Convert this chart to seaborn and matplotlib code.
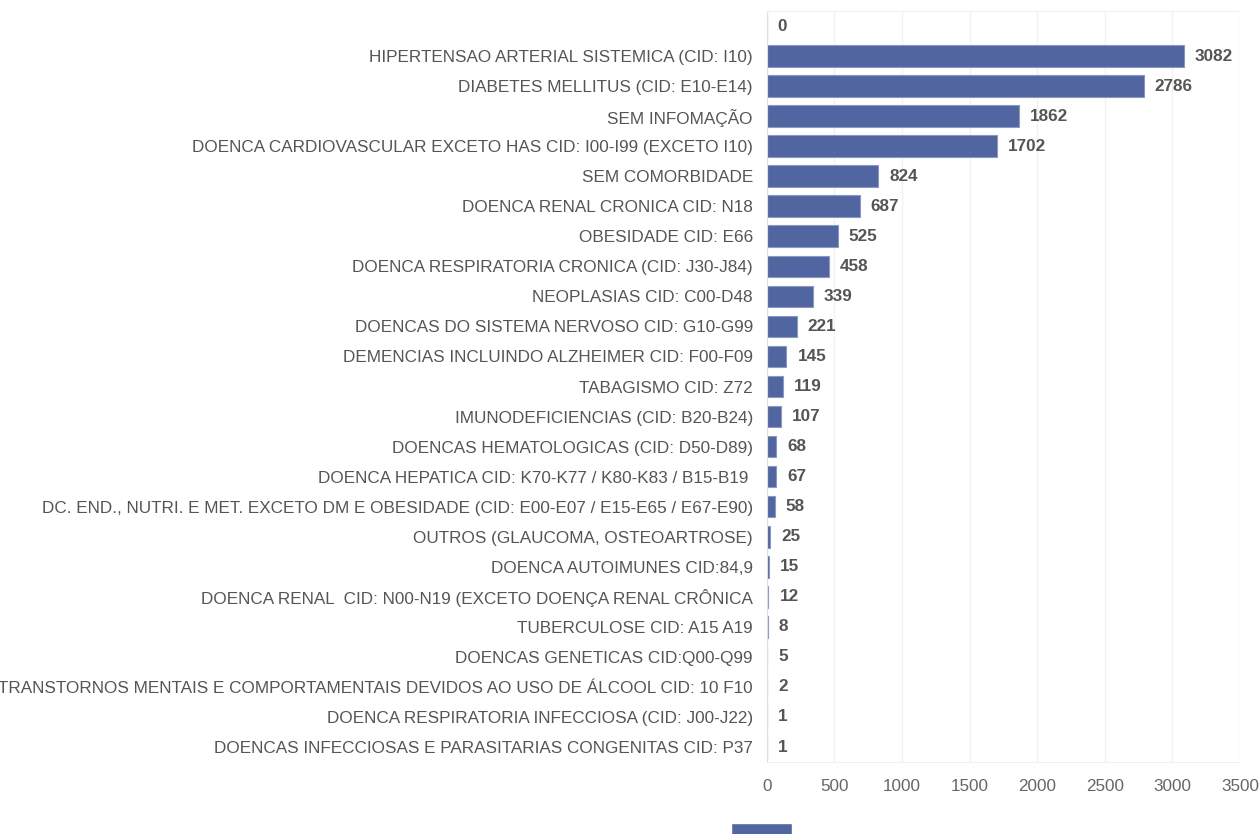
import pandas as pd
import matplotlib.pyplot as plt
import seaborn as sns
from matplotlib.patches import Patch

# comorbidades e quantidades (de cima para baixo)
categorias = [
    '',
    'HIPERTENSAO ARTERIAL SISTEMICA (CID: I10)',
    'DIABETES MELLITUS (CID: E10-E14)',
    'SEM INFOMAÇÃO',
    'DOENCA CARDIOVASCULAR EXCETO HAS CID: I00-I99 (EXCETO I10)',
    'SEM COMORBIDADE',
    'DOENCA RENAL CRONICA CID: N18',
    'OBESIDADE CID: E66',
    'DOENCA RESPIRATORIA CRONICA (CID: J30-J84)',
    'NEOPLASIAS CID: C00-D48',
    'DOENCAS DO SISTEMA NERVOSO CID: G10-G99',
    'DEMENCIAS INCLUINDO ALZHEIMER CID: F00-F09',
    'TABAGISMO CID: Z72',
    'IMUNODEFICIENCIAS (CID: B20-B24)',
    'DOENCAS HEMATOLOGICAS (CID: D50-D89)',
    'DOENCA HEPATICA CID: K70-K77 / K80-K83 / B15-B19 ',
    'DC. END., NUTRI. E MET. EXCETO DM E OBESIDADE (CID: E00-E07 / E15-E65 / E67-E90)',
    'OUTROS (GLAUCOMA, OSTEOARTROSE)',
    'DOENCA AUTOIMUNES CID:84,9',
    'DOENCA RENAL  CID: N00-N19 (EXCETO DOENÇA RENAL CRÔNICA',
    'TUBERCULOSE CID: A15 A19',
    'DOENCAS GENETICAS CID:Q00-Q99',
    'TRANSTORNOS MENTAIS E COMPORTAMENTAIS DEVIDOS AO USO DE ÁLCOOL CID: 10 F10',
    'DOENCA RESPIRATORIA INFECCIOSA (CID: J00-J22)',
    'DOENCAS INFECCIOSAS E PARASITARIAS CONGENITAS CID: P37',
]
quantidades = [0, 3082, 2786, 1862, 1702, 824, 687, 525, 458, 339, 221, 145,
               119, 107, 68, 67, 58, 25, 15, 12, 8, 5, 2, 1, 1]
x_ticks = [0, 500, 1000, 1500, 2000, 2500, 3000, 3500]

cor_barra = '#5165a0'

sns.set_style('white')
plt.rcParams['font.family'] = ['Liberation Sans', 'DejaVu Sans']

df = pd.DataFrame({'categoria': categorias, 'quantidade': quantidades})

fig = plt.figure(figsize=(12.59, 8.34), dpi=100)
ax = fig.add_axes([0.609, 0.0863, 0.376, 0.9005])

sns.barplot(data=df, x='quantidade', y='categoria', color=cor_barra,
            width=0.72, saturation=1, ax=ax, zorder=2,
            edgecolor='#8b98c4', linewidth=0.8)

ax.bar_label(ax.containers[0], labels=[str(v) for v in quantidades],
             padding=8, fontsize=12.3, fontweight='bold', color='#555555')

ax.set_xlim(0, 3500)
ax.set_xticks(x_ticks)
ax.set_xlabel('')
ax.set_ylabel('')
ax.grid(axis='x', color='#f2f2f2', linewidth=1, zorder=0)
ax.tick_params(axis='y', length=0, pad=10, labelsize=12.3, labelcolor='#555555')
ax.tick_params(axis='x', length=0, pad=12, labelsize=12.3, labelcolor='#666666')

for lado in ['top', 'bottom', 'right']:
    ax.spines[lado].set_color('#f0f0f0')
ax.spines['right'].set_visible(False)
ax.spines['left'].set_color('#e0e0e0')

fig.legend(handles=[Patch(facecolor=cor_barra)], labels=[''],
           loc='upper center', bbox_to_anchor=(0.605, 0.03), frameon=False,
           handlelength=4, handleheight=2.2, fontsize=11, handletextpad=0)

plt.savefig('out.png', dpi=100)
